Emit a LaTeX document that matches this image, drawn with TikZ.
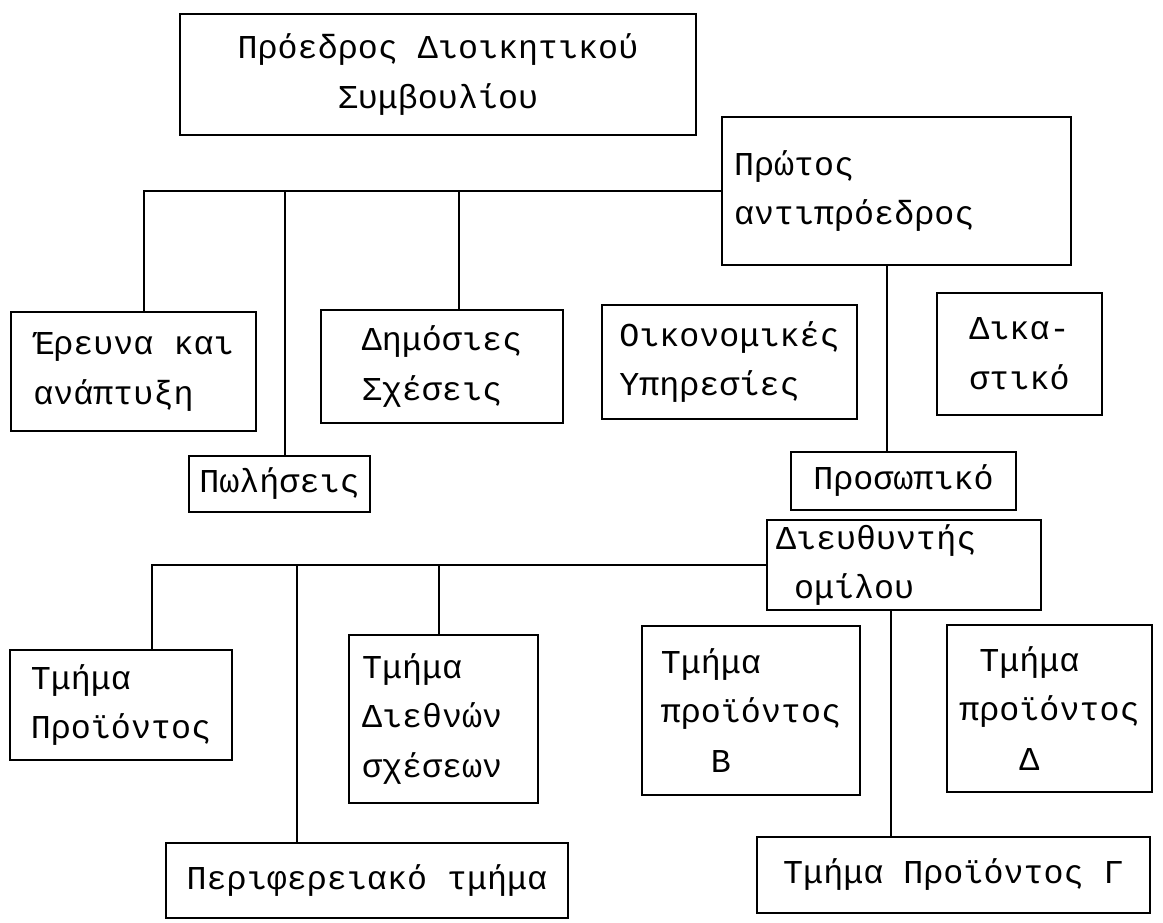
\documentclass[tikz,border=0pt]{standalone}
\usepackage{fontspec}
\setmonofont{Liberation Mono}
\tikzset{
  unitbox/.style={draw, line width=1.2pt, font=\ttfamily\fontsize{19}{28.4}\selectfont, align=left, inner sep=0pt},
  link/.style={line width=1.2pt}
}
\begin{document}
\begin{tikzpicture}
\path[use as bounding box, fill=white] (0,0) rectangle (23.26,-18.44);
\node[unitbox, align=center, minimum width=10.32cm, minimum height=2.42cm] (pres) at (8.76,-1.49) {Πρόεδρος Διοικητικού\\Συμβουλίου};
\node[unitbox, text width=6.50cm, inner xsep=0.24cm, minimum height=2.96cm] (vice) at (17.93,-3.82) {Πρώτος\\αντιπρόεδρος};
\node[unitbox, minimum width=4.90cm, minimum height=2.38cm] (erevna) at (2.67,-7.43) {Έρευνα και\\ανάπτυξη};
\node[unitbox, minimum width=4.84cm, minimum height=2.26cm] (dimosies) at (8.84,-7.33) {Δημόσιες\\Σχέσεις};
\node[unitbox, minimum width=3.62cm, minimum height=1.12cm] (poliseis) at (5.59,-9.68) {Πωλήσεις};
\node[unitbox, minimum width=5.10cm, minimum height=2.28cm] (oikonom) at (14.59,-7.24) {Οικονομικές\\Υπηρεσίες};
\node[unitbox, minimum width=3.30cm, minimum height=2.44cm] (dikast) at (20.39,-7.08) {Δικα-\\στικό};
\node[unitbox, minimum width=4.50cm, minimum height=1.16cm] (prosopiko) at (18.07,-9.62) {Προσωπικό};
\node[unitbox, text width=5.12cm, inner xsep=0.18cm, minimum height=1.80cm] (dieuth) at (18.08,-11.30) {Διευθυντής\\\hspace*{0.36cm}ομίλου};
\node[unitbox, minimum width=4.44cm, minimum height=2.20cm] (proion) at (2.42,-14.10) {Τμήμα\\Προϊόντος};
\node[unitbox, text width=3.26cm, inner xsep=0.26cm, minimum height=3.36cm] (diethnon) at (8.87,-14.38) {Τμήμα\\Διεθνών\\σχέσεων};
\node[unitbox, minimum width=8.04cm, minimum height=1.50cm] (perif) at (7.34,-17.61) {Περιφερειακό τμήμα};
\node[unitbox, minimum width=4.36cm, minimum height=3.38cm] (prB) at (15.02,-14.21) {Τμήμα\\προϊόντος\\\hspace*{1cm}Β};
\node[unitbox, minimum width=4.10cm, minimum height=3.34cm] (prD) at (20.99,-14.17) {\hspace*{0.4cm}Τμήμα\\προϊόντος\\\hspace*{1.2cm}Δ};
\node[unitbox, minimum width=7.86cm, minimum height=1.52cm] (prG) at (19.07,-17.50) {Τμήμα Προϊόντος Γ};
\draw[link] (vice.west) -| ([xshift=0.21cm]erevna.north);
\draw[link] (vice.west) -| ([xshift=0.11cm]poliseis.north);
\draw[link] (vice.west) -| ([xshift=0.34cm]dimosies.north);
\coordinate (vp) at ([xshift=-0.19cm]vice.south);
\draw[link] (vp) -- (vp |- prosopiko.north);
\draw[link] (dieuth.west) -| ([xshift=0.62cm]proion.north);
\draw[link] (dieuth.west) -| ([xshift=-1.40cm]perif.north);
\draw[link] (dieuth.west) -| ([xshift=-0.09cm]diethnon.north);
\coordinate (dg) at ([xshift=-0.26cm]dieuth.south);
\draw[link] (dg) -- (dg |- prG.north);
\end{tikzpicture}
\end{document}
